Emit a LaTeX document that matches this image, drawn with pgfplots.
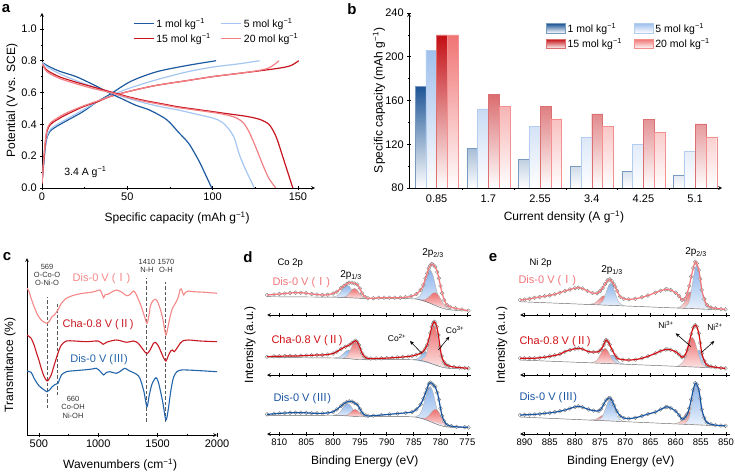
\documentclass[border=0pt]{standalone}
\usepackage{fontspec}
\setmainfont{Liberation Sans}
\newfontfamily\cjk{Noto Sans CJK SC}
\usepackage{pgfplots}
\pgfplotsset{compat=1.18}
\usepackage{pgfplotstable}
\usetikzlibrary{arrows.meta}

\definecolor{cB1}{RGB}{30,90,160}
\definecolor{cB2}{RGB}{165,198,240}
\definecolor{cR1}{RGB}{200,20,30}
\definecolor{cR2}{RGB}{242,128,132}
\definecolor{bB1}{RGB}{30,85,150}
\definecolor{bB2}{RGB}{160,192,236}
\definecolor{bR1}{RGB}{195,15,20}
\definecolor{bR2}{RGB}{240,115,115}
\definecolor{fP}{RGB}{245,135,135}
\definecolor{fR}{RGB}{200,25,35}
\definecolor{fB}{RGB}{35,100,170}
\definecolor{xbT}{RGB}{140,180,235}
\definecolor{xbB}{RGB}{232,240,252}
\definecolor{xrT}{RGB}{238,110,110}
\definecolor{xrB}{RGB}{252,226,226}
\definecolor{envP}{RGB}{242,118,122}
\definecolor{envR}{RGB}{210,15,20}
\definecolor{envB}{RGB}{25,85,160}

\newcommand{\mi}{\textsuperscript{−1}}
\newcommand{\RI}{{\cjk Ⅰ}}
\newcommand{\RII}{{\cjk Ⅱ}}
\newcommand{\RIII}{{\cjk Ⅲ}}

\pgfplotsset{
  base/.style={scale only axis, anchor=south west,
    axis line style={-,line width=0.7pt},
    tick style={black,line width=0.6pt},
    major tick length=3.5pt, minor tick length=2pt, tick align=outside,
    tick label style={font=\fontsize{11}{13}\selectfont},
    label style={font=\fontsize{12}{14}\selectfont},
    /pgf/number format/assume math mode=true,
    /pgf/number format/1000 sep={}},
  xps/.style={base, axis x line=bottom, axis y line=left, y axis line style={draw=none},
    x dir=reverse, clip marker paths=true,
    ymin=0, ymax=60, ytick=\empty, minor x tick num=1, clip=false,
    tick label style={font=\fontsize{9.5}{11}\selectfont}},
  xpsD/.style={xps, width=203.6pt, xmin=774.4, xmax=812.3, xtick={775,780,...,810}},
  xpsE/.style={xps, width=210pt, xmin=849.2, xmax=890.9, xtick={850,855,...,890}},
  circ/.style={only marks, mark=*, mark size=1.9pt, mark options={fill=white, draw=black!50, line width=0.4pt}},
  bgl/.style={gray!80!black, line width=0.45pt, smooth},
  cb/.style={draw=gray!65, line width=0.35pt, top color=xbT, bottom color=xbB, smooth, tension=0.5},
  cr/.style={draw=gray!65, line width=0.35pt, top color=xrT, bottom color=xrB, smooth, tension=0.5},
  env/.style={line width=1.2pt, smooth, tension=0.5, mark=none},
  barleg/.style={legend image code/.code={\path[##1] (0pt,-4.5pt) rectangle (19pt,5pt);}},
}

\pgfplotstableread{
E I
812.3 20.0
811 20.5
810 21
809 21.5
808 22
807 22.3
806 22.3
805 21.8
804 21
803 20.5
802 20
801 20.3
800 21.5
799.3 23.3
798.5 27
798 29
797.5 31
797 32.3
796.5 32.3
796 31.5
795.5 30.5
795 26.5
794.6 21.7
794 18
793.5 16.7
792.5 16.8
791.5 17.2
790.5 17.3
789.5 17.3
788.5 17.3
787.5 17.4
786.5 17.8
785.5 18.6
784.5 21
783.7 25
783.2 30
782.8 36.7
782.5 41.5
782.2 46.7
781.9 49.5
781.6 51
781.3 50
781.0 48.3
780.6 43
780.3 36.7
780.0 29
779.7 21.7
779.3 15
778.8 10
778.2 8
777.2 6.7
776 5.5
774.8 4.3
}\dA

\pgfplotstableread{
E I
812.3 18.3
811 18.6
810 18.8
809 18.9
808 19
807 19
806 19.2
805 19.5
804 19.7
803 20
802 20
801 20.5
800 21.5
799.3 23.3
798.5 26
797.7 28.3
797 30
796.5 31.7
796.1 33.5
795.8 34.3
795.5 33
795.2 30
794.9 26
794.6 21.7
794.2 18.5
793.7 16.7
793 16.5
792 16.6
791 16.7
790 16.9
789 17.2
788 17.6
787 18
786 18.5
785.3 19
784.5 20.2
783.7 21.7
783.2 23.5
782.8 26.7
782.5 30
782.2 35
781.9 42
781.6 48.3
781.4 51.5
781.2 53.3
781.0 52.5
780.7 48.3
780.4 40
780.1 28.3
779.8 19
779.4 13.3
779 10.5
778.5 9
777.5 8
776.5 7.4
775.5 7
774.8 6.7
}\dB

\pgfplotstableread{
E I
812.3 20
811 20.5
810 21
809 21.3
808 21.6
807 21.7
806 21.7
805 21.5
804 21.2
803 21
802 21
801 21.5
800 22.5
799.3 25
798.5 28.5
798 30.7
797.5 32.5
797 33.3
796.5 33
796 31.5
795.5 30
795 25.5
794.6 21.7
794 19
793.5 18.3
792.5 18.7
791 19.3
789.5 20
788 20.8
786.5 21.5
785.3 22.3
784.5 25
783.7 30
783.2 36
782.8 41.7
782.5 46
782.2 51
781.9 52.3
781.6 51.5
781.3 49.5
781 48.3
780.6 42
780.3 35
780 26
779.7 18.3
779.3 13
778.8 9.3
778 8
777 7.3
775.5 6.9
774.8 6.7
}\dC

\pgfplotstableread{
E I
890.9 15
890 15.5
889 16.2
888 17.2
887 18
886 18.8
885 19.6
884 20.8
883 22.3
882 24
881 25.5
880 26.8
879.3 27.3
878.5 26.5
877.5 24
876.5 22
875.6 21.7
875 24
874.5 27
874 31
873.5 34.5
873.1 35.7
872.7 34
872.3 31
872 28.3
871.6 24
871 18.3
870.3 16.3
869.3 15.7
868 16.2
866.7 17.7
865.5 19.5
864 22.3
863 24.3
862 25.6
861.7 25.7
861 25
860 22.3
859.3 19
858.7 15
858.2 16
857.7 21.7
857.3 29
856.9 38.3
856.5 47
856.1 53.3
855.8 51.5
855.4 45
855.1 36
854.8 25
854.3 16
853.8 10
853 7.5
852.1 6.7
851 6
850.1 5.7
}\eA

\pgfplotstableread{
E I
890.9 16.7
890 16.7
889 16.8
888 16.8
887 17.2
886 17.8
885 18.6
884 19.6
883 20.8
882 23.3
881 25
880 26.2
879.3 26.7
878.5 26
877.3 23.3
876.3 23
875.3 23.3
874.8 25.5
874.3 30
874 33.5
873.8 35
873.5 34
873.1 30.5
872.6 25
872 19.5
871.6 16.7
870.5 15.3
869.3 15
868 15.4
866.7 16.7
865.5 18.7
864 21.7
863 24
862 25.5
861.7 25.7
861 25.2
860 23.3
859.3 20.5
858.7 17.7
858.2 19
857.7 25
857.3 33
856.9 41
856.5 47.5
856.1 50
855.8 48.5
855.4 41.7
855.1 32
854.8 21.7
854.3 14
853.8 10
853 8.5
852.1 7.7
851 7
850.1 6.7
}\eB

\pgfplotstableread{
E I
890.9 19.3
890 19.5
889 19.7
888 20
887 20.4
886 21
885 21.5
884 22.2
883 23.2
882 24.3
881 26
880 27.5
879.3 28.3
878.5 27.3
877.3 25
876.3 23.8
875.3 23.3
874.8 25.5
874.3 30
873.8 34.5
873.3 36.5
873.0 36.7
872.6 33.5
872.2 29
871.7 23.5
871.0 18.3
870.3 16.3
869.3 15.7
868 16.5
866.7 18.3
865.5 20.3
864 22.3
863 25
862 27.3
861.7 27.7
861 26.5
860 23.3
859.3 19
858.7 15
858.2 16.5
857.7 20
857.3 26
856.9 35
856.5 45
856.1 51.7
855.8 50.5
855.4 45
855.1 36
854.8 25
854.3 16.5
853.8 11.7
853 10
852.1 9
851 8.6
850.1 8.3
}\eC

\begin{document}
\begin{tikzpicture}[x=1pt,y=1pt]
\path[use as bounding box] (0,0) rectangle (735,474);

% ---------------- panel a ----------------
\begin{axis}[base, at={(42pt,286pt)}, width=273pt, height=175pt,
  axis lines=left, xmin=0, xmax=160, ymin=0, ymax=1.1,
  xtick={0,50,100,150}, ytick={0,0.2,0.4,0.6,0.8,1.0},
  minor x tick num=1, minor y tick num=1,
  yticklabel style={/pgf/number format/.cd,fixed,fixed zerofill,precision=1},
  xlabel={Specific capacity (mAh g\mi)}, ylabel={Potential (V vs. SCE)},
  xlabel style={at={(axis description cs:0.495,-0.171)}, anchor=center},
  ylabel style={at={(axis description cs:-0.11,0.5)}, anchor=center},
  legend columns=2, legend cell align=left,
  legend style={draw=none, fill=none, at={(axis description cs:0.322,0.995)}, anchor=north west,
    font=\fontsize{10.5}{12}\selectfont, row sep=1pt,
    /tikz/every even column/.append style={column sep=8pt}},
  legend image code/.code={\draw[#1] (0pt,0pt) -- (20pt,0pt);}]
\addplot[cB1, line width=1.2pt, smooth] coordinates {(0,0.03)(1,0.15)(2,0.26)(3,0.32)(5,0.36)(9,0.39)(14,0.42)(24,0.48)(32,0.54)(40,0.59)(52,0.67)(67,0.73)(85,0.77)(102,0.80)};
\addlegendentry{1 mol kg\mi}
\addplot[cB2, line width=1.2pt, smooth] coordinates {(0,0.03)(1,0.16)(2,0.27)(3,0.33)(5,0.37)(9,0.40)(14,0.43)(24,0.49)(32,0.54)(40,0.58)(52,0.63)(67,0.68)(85,0.73)(100,0.76)(115,0.78)(127.5,0.80)};
\addlegendentry{5 mol kg\mi}
\addplot[cR1, line width=1.2pt, smooth] coordinates {(0,0.03)(1,0.17)(2,0.29)(3,0.36)(5,0.40)(9,0.43)(14,0.46)(24,0.51)(32,0.54)(40,0.575)(52,0.61)(67,0.645)(85,0.675)(100,0.70)(115,0.72)(130,0.74)(140,0.755)(146,0.77)(150.5,0.80)};
\addlegendentry{15 mol kg\mi}
\addplot[cR2, line width=1.2pt, smooth] coordinates {(0,0.03)(1,0.18)(2,0.30)(3,0.37)(5,0.41)(9,0.44)(14,0.47)(24,0.515)(32,0.545)(40,0.575)(52,0.61)(67,0.645)(85,0.675)(100,0.70)(115,0.72)(125,0.735)(133,0.755)(139,0.80)};
\addlegendentry{20 mol kg\mi}
\addplot[cB1, line width=1.2pt, smooth, forget plot] coordinates {(0,0.79)(3,0.77)(10,0.735)(20,0.70)(30,0.65)(40,0.595)(47,0.56)(55,0.52)(63,0.49)(73,0.43)(80,0.35)(86,0.28)(92,0.17)(96,0.08)(99.5,0)};
\addplot[cB2, line width=1.2pt, smooth, forget plot] coordinates {(0,0.79)(3,0.76)(10,0.72)(20,0.675)(30,0.635)(40,0.60)(50,0.565)(60,0.535)(70,0.51)(80,0.49)(90,0.465)(100,0.44)(106,0.41)(112,0.33)(116,0.2)(120,0.1)(124.5,0)};
\addplot[cR1, line width=1.2pt, smooth, forget plot] coordinates {(0,0.78)(3,0.74)(10,0.70)(20,0.665)(30,0.635)(40,0.605)(50,0.575)(60,0.55)(70,0.53)(80,0.51)(90,0.495)(100,0.48)(110,0.465)(120,0.45)(128,0.43)(133,0.40)(136,0.35)(138,0.3)(141,0.2)(144,0.1)(147,0)};
\addplot[cR2, line width=1.2pt, smooth, forget plot] coordinates {(0,0.78)(3,0.73)(10,0.69)(20,0.655)(30,0.625)(40,0.60)(50,0.57)(60,0.545)(70,0.525)(80,0.505)(90,0.49)(100,0.475)(108,0.46)(114,0.44)(118,0.41)(121,0.36)(124,0.29)(127,0.21)(130,0.13)(133,0.06)(137,0)};
\node[anchor=west, font=\fontsize{10.5}{12}\selectfont] at (axis cs:11,0.1) {3.4 A g\mi};
\end{axis}

% ---------------- panel b ----------------
\begin{axis}[base, at={(409pt,286pt)}, width=313pt, height=175pt,
  axis lines=left, ymin=80, ymax=240, xmin=-0.535, xmax=5.52,
  y coord trafo/.code={\pgfmathparse{#1-80}},
  y coord inv trafo/.code={\pgfmathparse{#1+80}},
  ytick={80,120,160,200,240}, yticklabels={80,120,160,200,240}, minor y tick num=1,
  xtick={0,1,2,3,4,5}, xticklabels={0.85,1.7,2.55,3.4,4.25,5.1},
  minor xtick={0.5,1.5,2.5,3.5,4.5}, major x tick style={draw=none},
  ybar=0pt, bar width=10.8pt,
  xlabel={Current density (A g\mi)}, ylabel={Specific capacity (mAh g\mi)},
  xlabel style={at={(axis description cs:0.495,-0.166)}, anchor=center},
  ylabel style={at={(axis description cs:-0.096,0.5)}, anchor=center},
  legend columns=2, legend cell align=left,
  legend style={draw=none, fill=none, at={(axis description cs:0.428,0.965)}, anchor=north west,
    font=\fontsize{10.5}{12}\selectfont, row sep=1pt,
    /tikz/every even column/.append style={column sep=10pt}}]
\addplot[barleg, draw=bB1!60, line width=0.4pt, top color=bB1, bottom color=white, bar shift=-16.2pt] coordinates {(0,173)(1,116)(2,106)(3,100)(4,95.5)(5,91.6)};
\addlegendentry{1 mol kg\mi}
\addplot[barleg, draw=bB2!80, line width=0.4pt, top color=bB2, bottom color=white, bar shift=-5.4pt] coordinates {(0,206)(1,152.3)(2,136.5)(3,126.2)(4,119.8)(5,113.4)};
\addlegendentry{5 mol kg\mi}
\addplot[barleg, draw=bR1!60, line width=0.4pt, top color=bR1, bottom color=white, bar shift=5.4pt] coordinates {(0,220)(1,165.6)(2,154.7)(3,147.7)(4,142.9)(5,138.6)};
\addlegendentry{15 mol kg\mi}
\addplot[barleg, draw=bR2!80, line width=0.4pt, top color=bR2, bottom color=white, bar shift=16.2pt] coordinates {(0,220)(1,154.7)(2,143.2)(3,136.2)(4,131)(5,126.8)};
\addlegendentry{20 mol kg\mi}
\end{axis}

% ---------------- panel c ----------------
\begin{axis}[base, at={(27pt,39pt)}, width=190pt, height=177pt,
  axis lines=left, xmin=400, xmax=2000, ymin=0, ymax=177, ytick=\empty,
  xtick={500,1000,1500,2000}, minor x tick num=1, clip=false,
  xlabel={Wavenumbers (cm\mi)}, ylabel={Transmitance (\%)},
  xlabel style={at={(axis description cs:0.49,-0.17)}, anchor=center},
  ylabel style={at={(axis description cs:-0.089,0.395)}, anchor=center}]
\addplot[gray!70!black, dash pattern=on 3.5pt off 2pt, line width=0.9pt] coordinates {(569,26.7)(569,138)};
\addplot[gray!70!black, dash pattern=on 3.5pt off 2pt, line width=0.9pt] coordinates {(660,40)(660,133)};
\addplot[gray!70!black, dash pattern=on 3.5pt off 2pt, line width=0.9pt] coordinates {(1410,13.3)(1410,156.7)};
\addplot[gray!70!black, dash pattern=on 3.5pt off 2pt, line width=0.9pt] coordinates {(1570,13.3)(1570,153.3)};
\addplot[fP, line width=1.1pt, smooth] coordinates {(401,146.7)(415,144)(435,136.7)(460,128.3)(490,120)(520,115)(545,112.7)(569,111.7)(590,114)(610,118.3)(630,120)(660,125)(690,131.7)(730,136.7)(760,138.3)(800,140)(870,141.7)(940,142.7)(985,144)(1013,145)(1030,141.7)(1045,137.3)(1060,140.7)(1080,140.7)(1110,142.7)(1154,145)(1200,142.7)(1239,139.3)(1270,140.7)(1295,144)(1315,141.7)(1340,135)(1366,127.3)(1390,118.3)(1410,111.7)(1425,118.3)(1440,129.3)(1460,134)(1480,135.7)(1500,133.3)(1520,126.7)(1540,118.3)(1555,108.3)(1570,100)(1585,106.7)(1605,118.3)(1625,126.7)(1650,131.7)(1675,138.3)(1690,145.7)(1700,146)(1712,141.7)(1720,140)(1735,142.7)(1760,144)(1800,143.3)(1900,142.7)(2000,141.7)};
\addplot[fR, line width=1.1pt, smooth] coordinates {(401,100)(420,98.3)(435,96.7)(460,90)(477,83.3)(500,75)(520,66.7)(545,58.3)(569,54)(585,56)(604,60)(625,68.3)(647,76.7)(670,85)(690,90)(731,94)(800,94)(900,93.3)(1000,94)(1041,90.7)(1069,92.7)(1154,95)(1239,92.7)(1295,94)(1337,91.7)(1380,85)(1410,81.3)(1436,85)(1465,91.7)(1480,92.7)(1505,89.3)(1530,82.7)(1550,77.3)(1570,74)(1590,79.3)(1610,84)(1625,85)(1640,83.3)(1662,86.7)(1690,91.7)(1710,94)(1760,95)(1860,94)(2000,93.3)};
\addplot[fB, line width=1.1pt, smooth] coordinates {(401,64)(420,63.3)(435,62.7)(460,56.7)(477,53.3)(500,49.3)(520,47.3)(545,45)(569,43.3)(590,45)(610,48)(630,50)(647,51)(661,51.7)(675,56)(690,60)(731,63.3)(800,64.3)(872,65)(950,66)(985,66.7)(1020,63.3)(1045,60)(1070,62.7)(1098,63.3)(1154,61.7)(1200,65)(1225,66.7)(1260,64.3)(1290,62.7)(1323,60.7)(1351,56.7)(1385,43.3)(1410,28.3)(1430,40)(1450,50)(1465,54)(1487,57.3)(1505,53.3)(1525,43.3)(1545,31.7)(1570,15)(1590,26)(1610,43.3)(1633,57.3)(1662,63.3)(1700,65)(1750,65)(1860,64.3)(2000,63.3)};
\node[align=center, font=\fontsize{7.5}{8.3}\selectfont, text=black!80] at (axis cs:569,160) {569\\O-Co-O\\O-Ni-O};
\node[align=center, font=\fontsize{7.5}{8.3}\selectfont, text=black!80] at (axis cs:1410,168.8) {1410\\N-H};
\node[align=center, font=\fontsize{7.5}{8.3}\selectfont, text=black!80] at (axis cs:1570,168.8) {1570\\O-H};
\node[align=center, font=\fontsize{7.5}{8.3}\selectfont, text=black!80] at (axis cs:788,27.7) {660\\Co-OH\\Ni-OH};
\node[text=fP, font=\fontsize{11}{13}\selectfont] at (axis cs:1027,156.7) {Dis-0 V (\RI)};
\node[text=fR, font=\fontsize{11}{13}\selectfont] at (axis cs:999,110) {Cha-0.8 V (\RII)};
\node[text=fB, font=\fontsize{11}{13}\selectfont] at (axis cs:1007,75) {Dis-0 V (\RIII)};
\end{axis}

% ---------------- panel d ----------------
\begin{axis}[xpsD, at={(267pt,159pt)}, height=60pt, xticklabels={}]
\addplot[cb] coordinates {(800.1,17.9)(799.2,19.3)(798.75,21.7)(798.3,25.2)(797.85,28.6)(797.4,30.0)(796.95,28.4)(796.5,24.8)(796.05,21.1)(795.6,18.5)(794.7,16.7)};
\addplot[cr] coordinates {(798.4,17.6)(797.6,18.6)(797.2,20.4)(796.8,23.0)(796.4,25.6)(796.0,26.6)(795.6,25.4)(795.2,22.6)(794.8,19.9)(794.4,17.9)(793.6,16.6)};
\addplot[cb] coordinates {(784.75,16.2)(783.8,19.3)(783.33,25.1)(782.85,33.7)(782.38,42.3)(781.9,45.1)(781.43,39.9)(780.95,29.7)(780.48,19.3)(780.0,12.1)(779.05,6.4)};
\addplot[cr] coordinates {(783.9,15.0)(782.9,15.3)(782.4,17.0)(781.9,19.5)(781.4,21.9)(780.9,22.3)(780.4,19.9)(779.9,15.3)(779.4,10.9)(778.9,7.8)(777.9,5.1)};
\addplot[bgl] coordinates {(812.3,18.3)(800,17.8)(797,17.2)(795,16.7)(793,16.5)(786,16.3)(784,15.5)(782.5,13)(781,9.5)(779.5,6.5)(778,5)(774.8,4)};
\addplot[circ] table[x=E,y=I] {\dA};
\addplot[env, envP] table[x=E,y=I] {\dA};
\end{axis}
\begin{axis}[xpsD, at={(267pt,99pt)}, height=60pt, xticklabels={},
  ylabel={Intensity (a.u.)}, ylabel style={at={(axis description cs:-0.083,0.5)}, anchor=center}]
\addplot[cb] coordinates {(799.8,17.0)(798.9,17.9)(798.45,19.4)(798.0,21.7)(797.55,24.0)(797.1,25.0)(796.65,23.8)(796.2,21.2)(795.75,18.6)(795.3,16.8)(794.4,15.6)};
\addplot[cr] coordinates {(798.15,16.8)(797.4,18.7)(797.03,21.9)(796.65,26.7)(796.28,31.4)(795.9,33.3)(795.53,31.1)(795.15,26.1)(794.78,21.2)(794.4,17.8)(793.65,15.6)};
\addplot[cb] coordinates {(785.1,15.3)(784.3,16.3)(783.9,17.9)(783.5,20.2)(783.1,22.4)(782.7,23.2)(782.3,21.4)(781.9,18.0)(781.5,14.5)(781.1,11.6)(780.3,9.0)};
\addplot[cr] coordinates {(783.6,15.2)(782.8,18.9)(782.4,25.6)(782.0,36.0)(781.6,46.0)(781.2,49.9)(780.8,44.4)(780.4,32.8)(780.0,20.9)(779.6,12.7)(778.8,7.2)};
\addplot[bgl] coordinates {(812.3,17.5)(800,17)(797,16.3)(795,15.5)(786,15.3)(784,14.8)(782.5,13)(781,10)(779.5,7.5)(778,6.5)(774.8,6)};
\addplot[circ] table[x=E,y=I] {\dB};
\addplot[env, envR] table[x=E,y=I] {\dB};
\end{axis}
\begin{axis}[xpsD, at={(267pt,40pt)}, height=59pt,
  xlabel={Binding Energy (eV)}, xlabel style={at={(axis description cs:0.48,-0.47)}, anchor=center}]
\addplot[cb] coordinates {(800.0,18.9)(799.1,20.3)(798.65,22.6)(798.2,26.2)(797.75,29.6)(797.3,31.0)(796.85,29.4)(796.4,25.8)(795.95,22.1)(795.5,19.6)(794.6,17.9)};
\addplot[cr] coordinates {(798.15,18.6)(797.4,19.3)(797.03,20.6)(796.65,22.4)(796.28,24.3)(795.9,25.0)(795.53,24.1)(795.15,22.1)(794.78,20.1)(794.4,18.7)(793.65,17.8)};
\addplot[cb] coordinates {(784.75,17.2)(783.8,20.5)(783.33,26.6)(782.85,35.9)(782.38,44.9)(781.9,48.3)(781.43,42.9)(780.95,32.0)(780.48,20.9)(780.0,13.3)(779.05,7.7)};
\addplot[cr] coordinates {(783.65,16.0)(782.7,16.4)(782.23,18.5)(781.75,21.5)(781.28,24.5)(780.8,25.0)(780.33,22.4)(779.85,17.5)(779.38,12.6)(778.9,9.3)(777.95,7.0)};
\addplot[bgl] coordinates {(812.3,19)(800,18.8)(797,18.3)(795,17.8)(786,17.6)(784,16.5)(782.5,14)(781,10.5)(779.5,7.8)(778,6.8)(774.8,6.2)};
\addplot[circ] table[x=E,y=I] {\dC};
\addplot[env, envB] table[x=E,y=I] {\dC};
\end{axis}

% ---------------- panel e ----------------
\begin{axis}[xpsE, at={(520pt,159pt)}, height=60pt, xticklabels={}]
\addplot[cr] coordinates {(877.2,10.6)(876.2,11.6)(875.7,13.3)(875.2,15.8)(874.7,18.3)(874.2,19.3)(873.7,18.1)(873.2,15.4)(872.7,12.7)(872.2,10.8)(871.2,9.4)};
\addplot[cb] coordinates {(875.45,10.3)(874.6,12.9)(874.18,17.0)(873.75,23.2)(873.33,29.2)(872.9,31.7)(872.48,29.0)(872.05,22.8)(871.63,16.5)(871.2,12.3)(870.35,9.3)};
\addplot[cr] coordinates {(859.7,7.1)(858.8,9.1)(858.35,12.2)(857.9,16.9)(857.45,21.4)(857.0,23.3)(856.55,21.2)(856.1,16.5)(855.65,11.6)(855.2,8.3)(854.3,6.0)};
\addplot[cb] coordinates {(858.2,7.2)(857.4,12.4)(857.0,20.6)(856.6,33.0)(856.2,44.9)(855.8,50.0)(855.4,44.7)(855.0,32.6)(854.6,20.2)(854.2,11.8)(853.4,6.2)};
\addplot[bgl] coordinates {(890.9,13.3)(850.1,5.0)};
\addplot[circ] table[x=E,y=I] {\eA};
\addplot[env, envP] table[x=E,y=I] {\eA};
\end{axis}
\begin{axis}[xpsE, at={(520pt,99pt)}, height=60pt, xticklabels={},
  ylabel={Intensity (a.u.)}, ylabel style={at={(axis description cs:-0.087,0.5)}, anchor=center}]
\addplot[cb] coordinates {(875.0,11.9)(874.2,12.8)(873.8,14.3)(873.4,16.7)(873.0,19.1)(872.6,20.0)(872.2,18.9)(871.8,16.4)(871.4,13.8)(871.0,12.2)(870.2,10.9)};
\addplot[cr] coordinates {(876.7,12.4)(875.8,14.0)(875.35,16.8)(874.9,21.0)(874.45,25.0)(874.0,26.7)(873.55,24.8)(873.1,20.6)(872.65,16.2)(872.2,13.2)(871.3,11.2)};
\addplot[cb] coordinates {(857.4,8.3)(856.7,10.3)(856.35,13.5)(856.0,18.2)(855.65,23.0)(855.3,25.0)(854.95,22.9)(854.6,18.0)(854.25,13.2)(853.9,9.8)(853.2,7.6)};
\addplot[cr] coordinates {(859.55,8.9)(858.6,12.4)(858.13,18.0)(857.65,26.2)(857.18,34.3)(856.7,37.7)(856.23,34.1)(855.75,25.8)(855.28,17.4)(854.8,11.6)(853.85,7.7)};
\addplot[bgl] coordinates {(890.9,15.0)(850.1,6.7)};
\addplot[circ] table[x=E,y=I] {\eB};
\addplot[env, envR] table[x=E,y=I] {\eB};
\end{axis}
\begin{axis}[xpsE, at={(520pt,40pt)}, height=59pt,
  xlabel={Binding Energy (eV)}, xlabel style={at={(axis description cs:0.48,-0.46)}, anchor=center}]
\addplot[cr] coordinates {(876.9,14.3)(876.0,14.8)(875.55,15.8)(875.1,17.3)(874.65,18.7)(874.2,19.3)(873.75,18.5)(873.3,16.9)(872.85,15.2)(872.4,14.0)(871.5,13.1)};
\addplot[cb] coordinates {(875.55,14.0)(874.7,16.5)(874.28,20.6)(873.85,26.6)(873.43,32.5)(873.0,35.0)(872.58,32.3)(872.15,26.3)(871.73,20.1)(871.3,15.8)(870.45,12.9)};
\addplot[cr] coordinates {(860.1,10.6)(859.2,12.1)(858.75,14.6)(858.3,18.2)(857.85,21.8)(857.4,23.3)(856.95,21.6)(856.5,17.8)(856.05,14.0)(855.6,11.3)(854.7,9.4)};
\addplot[cb] coordinates {(858.15,10.6)(857.4,15.5)(857.03,23.3)(856.65,34.9)(856.28,46.2)(855.9,51.0)(855.53,46.0)(855.15,34.5)(854.78,22.9)(854.4,14.9)(853.65,9.6)};
\addplot[bgl] coordinates {(890.9,17.3)(850.1,8.0)};
\addplot[circ] table[x=E,y=I] {\eC};
\addplot[env, envB] table[x=E,y=I] {\eC};
\end{axis}

% ---------------- annotations ----------------
\node[font=\bfseries\fontsize{15}{15}\selectfont] at (6,465) {a};
\node[font=\bfseries\fontsize{15}{15}\selectfont] at (352,465) {b};
\node[font=\bfseries\fontsize{15}{15}\selectfont] at (7,217) {c};
\node[font=\bfseries\fontsize{15}{15}\selectfont] at (248,217) {d};
\node[font=\bfseries\fontsize{15}{15}\selectfont] at (493,216) {e};

\node[anchor=west, font=\fontsize{9.5}{11}\selectfont] at (274,211) {Co 2p};
\node[anchor=west, font=\fontsize{9.5}{11}\selectfont] at (526,211) {Ni 2p};
\node[font=\fontsize{10}{11}\selectfont] at (351,199) {2p\textsubscript{1/3}};
\node[font=\fontsize{10}{11}\selectfont] at (433,221) {2p\textsubscript{2/3}};
\node[font=\fontsize{10}{11}\selectfont] at (612,204) {2p\textsubscript{1/3}};
\node[font=\fontsize{10}{11}\selectfont] at (696,222) {2p\textsubscript{2/3}};

\node[anchor=west, text=envP, font=\fontsize{11}{13}\selectfont] at (269,191.5) {Dis-0 V (\RI)};
\node[anchor=west, text=envR, font=\fontsize{11}{13}\selectfont] at (268,133) {Cha-0.8 V (\RII)};
\node[anchor=west, text=envB, font=\fontsize{11}{13}\selectfont] at (270,75) {Dis-0 V (\RIII)};
\node[anchor=west, text=envP, font=\fontsize{11}{13}\selectfont] at (515,193) {Dis-0 V (\RI)};
\node[anchor=west, text=envR, font=\fontsize{11}{13}\selectfont] at (516,132) {Cha-0.8 V (\RII)};
\node[anchor=west, text=envB, font=\fontsize{11}{13}\selectfont] at (516,76.5) {Dis-0 V (\RIII)};

\node[font=\fontsize{8.5}{10}\selectfont] at (397,136) {Co\textsuperscript{2+}};
\node[font=\fontsize{8.5}{10}\selectfont] at (455,144) {Co\textsuperscript{3+}};
\node[font=\fontsize{8.5}{10}\selectfont] at (666,149) {Ni\textsuperscript{3+}};
\node[font=\fontsize{8.5}{10}\selectfont] at (715,147) {Ni\textsuperscript{2+}};
\draw[-{Stealth[length=4pt,width=3.5pt]}, line width=0.6pt] (421.7,120.7) -- (410,133);
\draw[-{Stealth[length=4pt,width=3.5pt]}, line width=0.6pt] (438.3,124) -- (449.3,137.3);
\draw[-{Stealth[length=4pt,width=3.5pt]}, line width=0.6pt] (691,127.3) -- (675.7,140.7);
\draw[-{Stealth[length=4pt,width=3.5pt]}, line width=0.6pt] (701.7,121.7) -- (714.3,133);
\end{tikzpicture}
\end{document}
